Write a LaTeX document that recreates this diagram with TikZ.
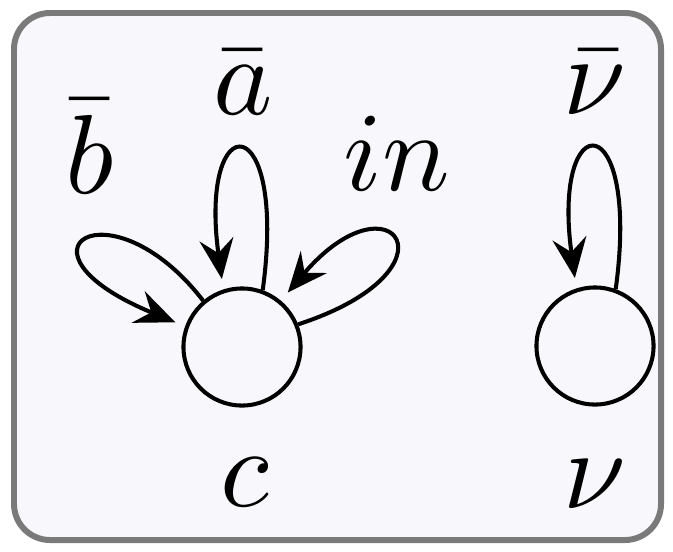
\documentclass[tikz,border=0pt]{standalone}
\usetikzlibrary{arrows.meta}
\definecolor{framegray}{RGB}{122,122,122}
\definecolor{bgtint}{RGB}{248,248,252}
\tikzset{
  statecirc/.style={circle,draw,line width=1.15pt,minimum size=1.17cm,inner sep=0pt},
  lbl/.style={anchor=base,inner sep=0pt,scale=3.2},
  looparrow/.style={line width=1.15pt,-{Stealth[length=4mm,width=3.4mm,inset=1.4mm]},shorten >=3pt},
  frame/.style={draw=framegray,fill=bgtint,line width=1.7pt,rounded corners=0.36cm}
}
\begin{document}
\begin{tikzpicture}[x=0.01cm,y=-0.01cm]
\useasboundingbox (0,0) rectangle (673,551);
\draw[frame] (14,13) rectangle (661,540);
\node[statecirc] (c) at (242,347) {};
\node[statecirc] (v) at (595,346) {};
\node[lbl] (la) at (243,114) {$\bar a$};
\node[lbl] (lb) at (90,193) {$\bar b$};
\node[lbl] (lin) at (397,190) {$in$};
\node[lbl] (lvb) at (595,114) {$\bar \nu$};
\node[lbl] (lc) at (245,506) {$c$};
\node[lbl] (lv) at (595,508) {$\nu$};
\draw[looparrow] (c.70) .. controls (288,105) and (198,105) .. (c.108);
\draw[looparrow] (c.130) .. controls (110,180) and (0,250) .. (c.160);
\draw[looparrow] (c.22) .. controls (465,270) and (392,170) .. (c.50);
\draw[looparrow] (v.70) .. controls (641,104) and (551,104) .. (v.108);
\end{tikzpicture}
\end{document}
